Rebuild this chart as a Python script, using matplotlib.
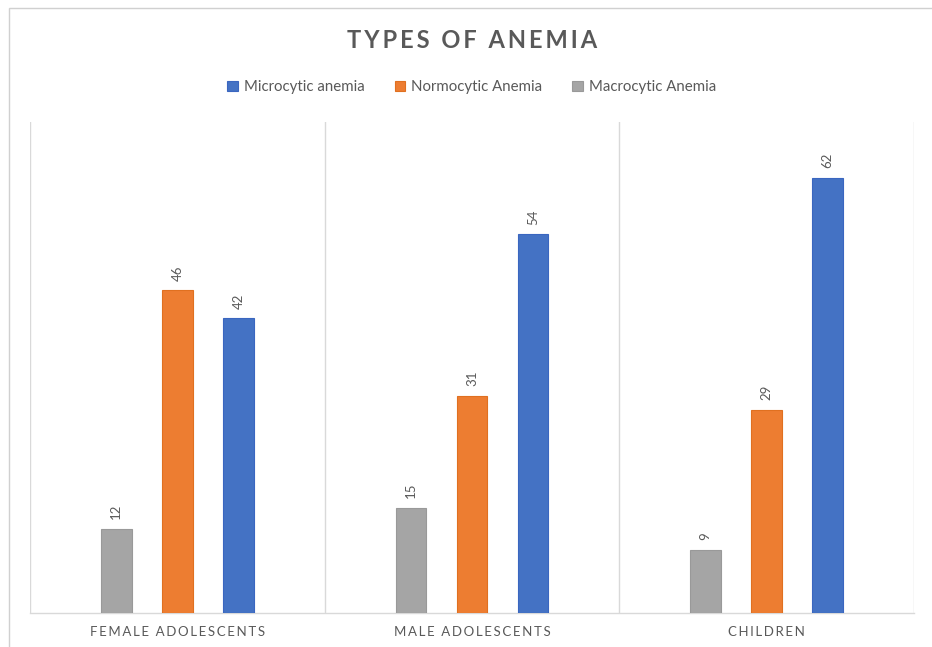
import matplotlib
matplotlib.use("Agg")
import matplotlib.pyplot as plt
import numpy as np
from matplotlib.patches import Rectangle

categories = ["FEMALE ADOLESCENTS", "MALE ADOLESCENTS", "CHILDREN"]
macrocytic = [12, 15, 9]
normocytic = [46, 31, 29]
microcytic = [42, 54, 62]

TXT = "#595959"
FAM = ["Lato", "DejaVu Sans"]

def spaced(s, sep="\u200a"):
    return sep.join(s)

fig = plt.figure(figsize=(9.32, 6.47), dpi=100)
fig.patches.append(Rectangle((9/932, -0.1), 1.2, 1 - 8/647 + 0.1, transform=fig.transFigure,
                             fill=False, edgecolor="#D0D0D0", linewidth=1.0))
ax = fig.add_axes([30/932, 34/647, 884/932, 491/647])

x = np.arange(len(categories))
off = 0.207
w = 0.105
series = [
    ("Macrocytic Anemia", macrocytic, "#A5A5A5", "#999999", -off),
    ("Normocytic Anemia", normocytic, "#ED7D31", "#E07020", 0.0),
    ("Microcytic anemia", microcytic, "#4472C4", "#3A66C0", off),
]
handles = {}
for name, vals, col, ec, o in series:
    bars = ax.bar(x + o, vals, width=w, color=col, edgecolor=ec, linewidth=0.8, zorder=3)
    handles[name] = bars
    for b, v in zip(bars, vals):
        ax.annotate(str(v), (b.get_x() + b.get_width() / 2, v), xytext=(0, 7),
                    textcoords="offset points", rotation=90, ha="center", va="bottom",
                    fontsize=9.5, color=TXT, family=FAM)

ax.set_xlim(-0.5, 2.5)
ax.set_ylim(0, 70)
for xv in [-0.5, 0.5, 1.5, 2.5]:
    ax.axvline(xv, color="#D9D9D9", linewidth=1.0, zorder=1)
for s in ["top", "left", "right"]:
    ax.spines[s].set_visible(False)
ax.spines["bottom"].set_color("#D9D9D9")
ax.spines["bottom"].set_linewidth(1.0)
ax.set_yticks([])
ax.set_xticks(x)
ax.set_xticklabels([spaced(c, "\u2009") for c in categories], fontsize=9.5, color=TXT, family=FAM)
ax.tick_params(axis="x", length=0, pad=9)

fig.text(0.5065, 1 - 41/647, spaced("TYPES OF ANEMIA", "\u2009"), ha="center", va="center",
         fontsize=17, fontweight="bold", color=TXT, family=FAM)

order = ["Microcytic anemia", "Normocytic Anemia", "Macrocytic Anemia"]
leg = fig.legend([handles[n] for n in order], order, loc="center", ncol=3,
                 bbox_to_anchor=(0.506, 1 - 87/647), frameon=False,
                 prop={"family": FAM, "size": 10.8}, labelcolor=TXT,
                 handlelength=0.7, handleheight=0.7, handletextpad=0.4, columnspacing=2.0)

fig.savefig("out.png", dpi=100)
